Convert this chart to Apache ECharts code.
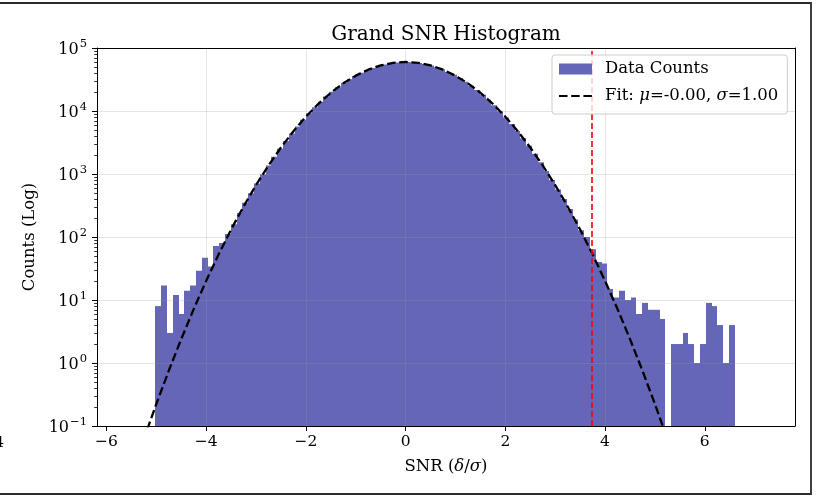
<!DOCTYPE html>
<html><head><meta charset="utf-8">
<script src="https://cdn.jsdelivr.net/npm/echarts@6/dist/echarts.min.js"></script>
<style>html,body{margin:0;padding:0;background:#fff}#c{width:817px;height:496px}</style>
</head><body><div id="c"></div>
<script>
// ---- data ----
const histMin = -5.017;
const histMax = 6.603;
const nBins = 100;
const counts = [
  8, 17, 3, 12, 6, 14, 17, 29, 47, 34,
  72, 80, 112, 160, 240, 350, 495, 705, 990, 1370,
  1870, 2520, 3350, 4400, 5700, 7280, 9180, 11420, 14020, 16970,
  20280, 23900, 27800, 31890, 36100, 40310, 44410, 48280, 51770, 54770,
  57170, 58870, 59810, 59960, 59290, 57850, 55690, 52880, 49550, 45800,
  41770, 37580, 33360, 29210, 25240, 21520, 18100, 15020, 12290, 9920,
  7910, 6220, 4820, 3700, 2800, 2090, 1540, 1120, 805, 570,
  400, 278, 190, 128, 100, 64, 40, 38, 15, 11,
  14, 10, 11, 6, 9, 7, 7, 5, 0, 2,
  2, 3, 2, 1, 2, 9, 8, 4, 1, 4
];
const fitX = [-5.5, -5.25, -5.0, -4.75, -4.5, -4.25, -4.0, -3.75, -3.5, -3.25, -3.0, -2.75, -2.5, -2.25, -2.0, -1.75, -1.5, -1.25, -1.0, -0.75, -0.5, -0.25,
  0, 0.25, 0.5, 0.75, 1.0, 1.25, 1.5, 1.75, 2.0, 2.25, 2.5, 2.75, 3.0, 3.25, 3.5, 3.75, 4.0, 4.25, 4.5, 4.75, 5.0, 5.25, 5.5];
const fitY = [0.01619, 0.06208, 0.2236, 0.7567, 2.404, 7.178, 20.13, 53.03, 131.25, 305.2, 666.5, 1367.6, 2636, 4773.5, 8120, 12976, 19479, 27470, 36392, 45290, 52950, 58154,
  60000, 58154, 52950, 45290, 36392, 27470, 19479, 12976, 8120, 4773.5, 2636, 1367.6, 666.5, 305.2, 131.25, 53.03, 20.13, 7.178, 2.404, 0.7567, 0.2236, 0.06208, 0.01619];
const thresholdX = 3.73;
const xTicks = [-6, -4, -2, 0, 2, 4, 6];
const xMin = -6.19, xMax = 7.81;
const yMin = 0.1, yMax = 1e5;
const minorMultipliers = [2, 3, 4, 5, 6, 7, 8, 9];
const titleText = 'Grand SNR Histogram';
const barName = 'Data Counts';
const fitName = 'Fit: \u03bc=-0.00, \u03c3=1.00';

// ---- build ----
const FONT = "'DejaVu Serif', 'Liberation Serif', serif";
const BAR_COLOR = '#6666b9';
const binW = (histMax - histMin) / nBins;
const barData = [];
counts.forEach((c, i) => { if (c > 0) barData.push([histMin + i * binW, histMin + (i + 1) * binW, c]); });
const fitData = fitX.map((x, i) => [x, fitY[i]]);
const minorExps = [];
for (let d = Math.round(Math.log10(yMin)); d < Math.round(Math.log10(yMax)); d++) {
  minorMultipliers.forEach(k => minorExps.push(Math.log10(k) + d));
}
const GRID_COLOR = 'rgba(150,150,150,0.25)';

const chart = echarts.init(document.getElementById('c'), null, {renderer: 'canvas'});
chart.setOption({
  animation: false,
  backgroundColor: '#ffffff',
  title: {
    text: titleText, left: 441, top: 20, textAlign: 'center',
    textStyle: {fontFamily: FONT, fontSize: 20, fontWeight: 'normal', color: '#000'}
  },
  grid: {left: 97, top: 48, width: 698, height: 378, containLabel: false},
  legend: {
    orient: 'vertical', left: 552, top: 55, padding: [5, 9, 9, 6], itemGap: 9,
    itemWidth: 33, itemHeight: 11, z: 10,
    backgroundColor: 'rgba(255,255,255,0.8)', borderColor: '#cccccc', borderWidth: 1, borderRadius: 3,
    data: [
      {name: barName, icon: 'rect'},
      {name: fitName, itemStyle: {color: 'rgba(0,0,0,0)', borderColor: 'rgba(0,0,0,0)', borderWidth: 0, opacity: 0}}
    ],
    formatter: n => n === fitName ? 'Fit: {i|\u03bc}=-0.00, {i|\u03c3}=1.00' : n,
    textStyle: {
      fontFamily: FONT, fontSize: 16.5, color: '#000', lineHeight: 18, padding: [0, 0, 0, 8],
      rich: {i: {fontFamily: FONT, fontStyle: 'italic', fontSize: 16.5, lineHeight: 18, color: '#000'}}
    }
  },
  xAxis: [
    {
      type: 'value', min: xMin, max: xMax, splitNumber: 7, z: 2,
      axisLine: {onZero: false, lineStyle: {color: '#000', width: 1}},
      axisTick: {customValues: xTicks, length: 5, lineStyle: {color: '#000', width: 1}},
      axisLabel: {customValues: xTicks, margin: 8, color: '#000', fontFamily: FONT, fontSize: 15.5,
        formatter: v => v < 0 ? '\u2212' + (-v) : String(v)},
      splitLine: {show: true, showMinLine: false, showMaxLine: false, lineStyle: {color: GRID_COLOR, width: 1}},
      name: 'SNR ({i|\u03b4}/{i|\u03c3})', nameLocation: 'middle', nameGap: 32,
      nameTextStyle: {fontFamily: FONT, fontSize: 16.5, color: '#000',
        rich: {i: {fontFamily: FONT, fontStyle: 'italic', fontSize: 16.5, color: '#000'}}}
    },
    {
      type: 'value', position: 'top', min: xMin, max: xMax, z: 2,
      axisLine: {show: true, onZero: false, lineStyle: {color: '#000', width: 1}},
      axisTick: {show: false}, axisLabel: {show: false}, splitLine: {show: false}
    }
  ],
  yAxis: [
    {
      type: 'log', logBase: 10, min: yMin, max: yMax, splitNumber: 6, z: 2,
      axisLine: {show: true, onZero: false, lineStyle: {color: '#000', width: 1}},
      axisTick: {show: true, length: 5, lineStyle: {color: '#000', width: 1}},
      axisLabel: {
        margin: 10, color: '#000',
        formatter: v => { const e = Math.round(Math.log10(v)); return '{b|10}{s|' + (e < 0 ? '\u2212' + (-e) : e) + '}'; },
        rich: {
          b: {fontFamily: FONT, fontSize: 16, color: '#000', verticalAlign: 'bottom'},
          s: {fontFamily: FONT, fontSize: 11.5, color: '#000', verticalAlign: 'top', padding: [0, 0, 8, 1]}
        }
      },
      splitLine: {show: true, showMinLine: false, showMaxLine: false, lineStyle: {color: GRID_COLOR, width: 1}},
      name: 'Counts (Log)', nameLocation: 'middle', nameGap: 52,
      nameTextStyle: {fontFamily: FONT, fontSize: 16.5, color: '#000'}
    },
    {
      type: 'value', min: Math.log10(yMin), max: Math.log10(yMax), position: 'left', z: 2,
      axisLine: {show: false, onZero: false},
      axisTick: {customValues: minorExps, length: 2.8, lineStyle: {color: '#000', width: 0.8}},
      axisLabel: {show: false}, splitLine: {show: false}
    },
    {
      type: 'value', min: 0, max: 1, position: 'right', z: 2,
      axisLine: {show: true, onZero: false, lineStyle: {color: '#000', width: 1}},
      axisTick: {show: false}, axisLabel: {show: false}, splitLine: {show: false}
    }
  ],
  series: [
    {
      type: 'custom', name: barName, xAxisIndex: 0, yAxisIndex: 0, z: 1, clip: true,
      itemStyle: {color: BAR_COLOR},
      encode: {x: [0, 1], y: 2},
      data: barData,
      renderItem: (params, api) => {
        const p0 = api.coord([api.value(0), api.value(2)]);
        const p1 = api.coord([api.value(1), yMin]);
        const x0 = Math.round(p0[0]), x1 = Math.round(p1[0]);
        return {type: 'rect', shape: {x: x0, y: p0[1], width: x1 - x0, height: p1[1] - p0[1]},
          style: {fill: api.visual('color')}};
      }
    },
    {
      type: 'line', name: fitName, xAxisIndex: 0, yAxisIndex: 0, z: 3, clip: true,
      data: fitData, symbol: 'none', showSymbol: false, smooth: false,
      lineStyle: {color: '#000', width: 2.3, type: [8.5, 3.7]},
      itemStyle: {color: '#000'},
      markLine: {
        silent: true, symbol: 'none', label: {show: false}, animation: false,
        lineStyle: {color: '#ff0000', width: 1.6, type: [6, 3]},
        data: [{xAxis: thresholdX}]
      }
    }
  ],
  graphic: [
    {type: 'rect', silent: true, z: 100, shape: {x: -10, y: 3, width: 821, height: 491},
      style: {fill: 'none', stroke: '#2b2b2b', lineWidth: 1.8}},
    {type: 'text', silent: true, x: -5.5, y: 443,
      style: {text: '4', font: "15px 'DejaVu Serif'", fill: '#000', verticalAlign: 'middle', align: 'left'}}
  ]
});
</script>
</body></html>
